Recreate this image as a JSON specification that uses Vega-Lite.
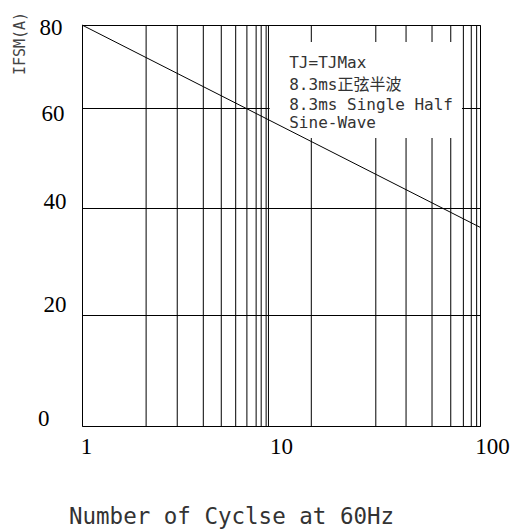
{
  "$schema": "https://vega.github.io/schema/vega-lite/v6.json",
  "width": 398,
  "height": 401,
  "autosize": {"type": "none"},
  "padding": {"left": 82, "top": 25, "right": 35, "bottom": 103},
  "background": "white",
  "config": {"view": {"stroke": "black", "strokeWidth": 1}},
  "datasets": {
    "grid": [
      {"cycles": 2.1}, {"cycles": 3.01}, {"cycles": 4.07}, {"cycles": 5.01},
      {"cycles": 5.92}, {"cycles": 6.74}, {"cycles": 7.5}, {"cycles": 7.95},
      {"cycles": 8.42}, {"cycles": 8.65}, {"cycles": 14.2}, {"cycles": 29.95},
      {"cycles": 42.5}, {"cycles": 57.4}, {"cycles": 71.3}, {"cycles": 82.5},
      {"cycles": 90.4}, {"cycles": 96.2}
    ],
    "box": [
      {"cycles": 8.77, "cycles2": 81.2, "ifsm": 75.9, "ifsm2": 54}
    ],
    "curve": [
      {"cycles": 1, "ifsm": 80},
      {"cycles": 100, "ifsm": 36.4}
    ],
    "notes": [
      {"cycles": 11, "ifsm": 69.57, "label": "TJ=TJMax"},
      {"cycles": 11, "ifsm": 64.34, "label": "8.3ms正弦半波"},
      {"cycles": 11, "ifsm": 59.6, "label": "8.3ms Single Half"},
      {"cycles": 11, "ifsm": 55.94, "label": "Sine-Wave"}
    ]
  },
  "layer": [
    {
      "data": {"name": "grid"},
      "mark": {"type": "rule", "color": "black", "strokeWidth": 1},
      "encoding": {
        "x": {
          "field": "cycles",
          "type": "quantitative",
          "scale": {"type": "log", "domain": [1, 100], "nice": false},
          "axis": {
            "values": [1, 10, 100],
            "format": "d",
            "grid": false,
            "domain": false,
            "ticks": false,
            "labelFlush": false,
            "labelFont": "Liberation Serif",
            "labelFontSize": 23,
            "labelColor": "black",
            "labelBaseline": "top",
            "labelPadding": 9,
            "labelOffset": {
              "condition": [
                {"test": "datum.value === 1", "value": 4},
                {"test": "datum.value === 100", "value": 12}
              ],
              "value": 0
            },
            "title": "Number of Cyclse at 60Hz",
            "titleFont": "DejaVu Sans Mono",
            "titleFontSize": 22.5,
            "titleFontWeight": "normal",
            "titleColor": "#333",
            "titleX": 149,
            "titleY": 97,
            "titleAlign": "center",
            "titleBaseline": "alphabetic"
          }
        }
      }
    },
    {
      "data": {"name": "box"},
      "mark": {"type": "rect", "fill": "white", "stroke": null},
      "encoding": {
        "x": {"field": "cycles", "type": "quantitative"},
        "x2": {"field": "cycles2"},
        "y": {
          "field": "ifsm",
          "type": "quantitative",
          "scale": {
            "domain": [0, 20, 40, 60, 80],
            "range": [401, 290, 183, 83, 0],
            "nice": false,
            "zero": false
          },
          "axis": {
            "values": [0, 20, 40, 60, 80],
            "grid": true,
            "gridColor": "black",
            "gridOpacity": 1,
            "gridWidth": 1,
            "domain": false,
            "ticks": false,
            "labelOverlap": false,
            "labelFont": "Liberation Serif",
            "labelFontSize": 23,
            "labelColor": "black",
            "labelAlign": "right",
            "labelBaseline": "middle",
            "labelPadding": {
              "condition": [
                {"test": "datum.value === 80", "value": 20},
                {"test": "datum.value === 60", "value": 18},
                {"test": "datum.value === 0", "value": 33}
              ],
              "value": 16
            },
            "labelOffset": {
              "condition": [
                {"test": "datum.value === 80", "value": 2},
                {"test": "datum.value === 60", "value": 5},
                {"test": "datum.value === 40", "value": -7},
                {"test": "datum.value === 20", "value": -11},
                {"test": "datum.value === 0", "value": -8}
              ],
              "value": 0
            },
            "title": "IFSM(A)",
            "titleFont": "DejaVu Sans Mono",
            "titleFontSize": 15,
            "titleFontWeight": "normal",
            "titleColor": "#444",
            "titleAngle": -90,
            "titleX": -63,
            "titleY": 18,
            "titleAlign": "center",
            "titleBaseline": "middle"
          }
        },
        "y2": {"field": "ifsm2"}
      }
    },
    {
      "data": {"name": "curve"},
      "mark": {"type": "line", "color": "black", "strokeWidth": 1},
      "encoding": {
        "x": {"field": "cycles", "type": "quantitative"},
        "y": {"field": "ifsm", "type": "quantitative"}
      }
    },
    {
      "data": {"name": "notes"},
      "mark": {
        "type": "text",
        "align": "left",
        "baseline": "alphabetic",
        "font": "DejaVu Sans Mono, Noto Sans CJK SC",
        "fontSize": 16,
        "color": "#333"
      },
      "encoding": {
        "x": {"field": "cycles", "type": "quantitative"},
        "y": {"field": "ifsm", "type": "quantitative"},
        "text": {"field": "label", "type": "nominal"}
      }
    }
  ]
}
